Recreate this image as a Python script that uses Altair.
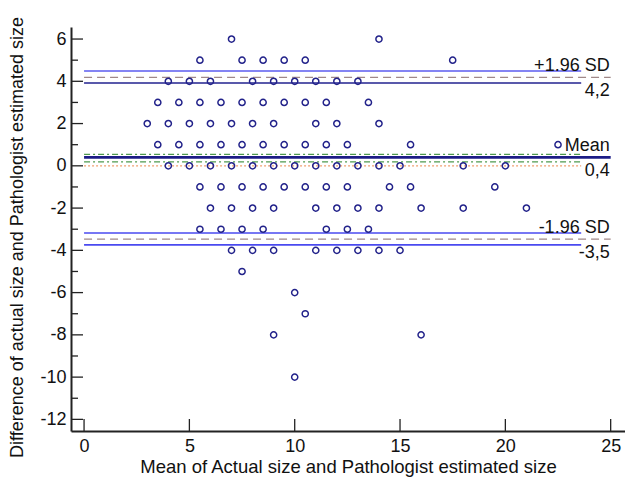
import altair as alt
import pandas as pd

# ---- data ----
d_p6 = [7, 14]
d_p5 = [5.5, 7.5, 8.5, 9.5, 10.5, 17.5]
d_p4 = [4, 5, 6, 8, 9, 10, 11, 12, 13]
d_p3 = [3.5, 4.5, 5.5, 6.5, 7.5, 8.5, 9.5, 10.5, 11.5, 13.5]
d_p2 = [3, 4, 5, 6, 7, 8, 9, 11, 12, 14]
d_p1 = [3.5, 4.5, 5.5, 6.5, 7.5, 8.5, 9.5, 10.5, 11.5, 12.5, 15.5, 22.5]
d_0 = [4, 5, 6, 7, 8, 9, 10, 11, 12, 13, 14, 15, 18, 20]
d_m1 = [5.5, 6.5, 7.5, 8.5, 9.5, 10.5, 11.5, 12.5, 14.5, 15.5, 19.5]
d_m2 = [6, 7, 8, 9, 11, 12, 13, 14, 16, 18, 21]
d_m3 = [5.5, 6.5, 7.5, 8.5, 11.5, 12.5, 13.5]
d_m4 = [7, 8, 9, 11, 12, 13, 14, 15]
d_m5 = [7.5]
d_m6 = [10]
d_m7 = [10.5]
d_m8 = [9, 16]
d_m10 = [10]

rows = {6: d_p6, 5: d_p5, 4: d_p4, 3: d_p3, 2: d_p2, 1: d_p1, 0: d_0,
        -1: d_m1, -2: d_m2, -3: d_m3, -4: d_m4, -5: d_m5, -6: d_m6,
        -7: d_m7, -8: d_m8, -10: d_m10}

line_names = ["upper_ci_hi", "upper_limit", "upper_ci_lo", "mean_ci_hi", "mean",
              "mean_ci_lo", "equality", "lower_ci_hi", "lower_limit", "lower_ci_lo"]
line_values = [4.49, 4.19, 3.92, 0.54, 0.40, 0.19, 0.0, -3.18, -3.47, -3.74]
line_x_start = [0, 0, 0, 0, 0, 0, 0, 0, 0, 0]
line_x_end = [23.6, 25, 23.6, 23.6, 25, 23.6, 23.6, 23.6, 25, 23.6]

labels_above = ["+1.96 SD", "Mean", "-1.96 SD"]
labels_above_y = [4.19, 0.40, -3.47]
labels_below = ["4,2", "0,4", "-3,5"]
labels_below_y = [4.19, 0.40, -3.47]
label_x = 25

x_ticks = [0, 5, 10, 15, 20, 25]
y_ticks_major = [-12, -10, -8, -6, -4, -2, 0, 2, 4, 6]
y_ticks_minor = [-11, -9, -7, -5, -3, -1, 1, 3, 5]

x_domain = [-0.62, 25.68]
y_domain = [-12.55, 6.57]

# ---- styles ----
FONT = "Liberation Sans"
W, H = 554, 404
line_styles = {
    "upper_ci_hi": dict(color="#5b5bef", strokeWidth=1.6),
    "upper_limit": dict(color="#a08888", strokeWidth=1.2, strokeDash=[8, 5]),
    "upper_ci_lo": dict(color="#22228f", strokeWidth=1.6),
    "mean_ci_hi": dict(color="#4f9a4f", strokeWidth=1.2, strokeDash=[6, 3, 2, 3]),
    "mean": dict(color="#1c1c86", strokeWidth=2.8),
    "mean_ci_lo": dict(color="#4f9a4f", strokeWidth=1.2, strokeDash=[6, 3, 2, 3]),
    "equality": dict(color="#f0a070", strokeWidth=1.2, strokeDash=[2, 2]),
    "lower_ci_hi": dict(color="#4a4af0", strokeWidth=1.6),
    "lower_limit": dict(color="#a08888", strokeWidth=1.2, strokeDash=[8, 5]),
    "lower_ci_lo": dict(color="#4a4af0", strokeWidth=1.6),
}

pts = pd.DataFrame([{"mean": x, "diff": d} for d, xs in rows.items() for x in xs])

xs = alt.Scale(domain=x_domain, nice=False, zero=False)
ys = alt.Scale(domain=y_domain, nice=False, zero=False)

x_axis = alt.Axis(values=x_ticks, title="Mean of Actual size and Pathologist estimated size",
                  grid=False, ticks=False, labelFlush=False, labelPadding=6, titlePadding=2,
                  titleFontSize=18.5, labelExpr="'' + datum.value")
y_axis = alt.Axis(values=y_ticks_major, title="Difference of actual size and Pathologist estimated size",
                  grid=False, ticks=False, labelFlush=False, labelPadding=5, titlePadding=13,
                  titleY=210, titleFontSize=18, labelExpr="'' + datum.value")

points = alt.Chart(pts).mark_point(shape="circle", filled=False, size=38, strokeWidth=1.5,
                                   color="#22228a", opacity=1).encode(
    x=alt.X("mean:Q", scale=xs, axis=x_axis),
    y=alt.Y("diff:Q", scale=ys, axis=y_axis),
)

layers = []
for name, v, x0, x1 in zip(line_names, line_values, line_x_start, line_x_end):
    df = pd.DataFrame({"y": [v], "x0": [x0], "x1": [x1]})
    layers.append(alt.Chart(df).mark_rule(**line_styles[name]).encode(
        x=alt.X("x0:Q", scale=xs), x2="x1:Q", y=alt.Y("y:Q", scale=ys)))

ta = pd.DataFrame({"t": labels_above, "y": labels_above_y, "x": [label_x] * 3})
tb = pd.DataFrame({"t": labels_below, "y": labels_below_y, "x": [label_x] * 3})
text_above = alt.Chart(ta).mark_text(align="right", baseline="alphabetic", dx=-1, dy=-6,
                                     font=FONT, fontSize=18, color="#111").encode(
    x=alt.X("x:Q", scale=xs), y=alt.Y("y:Q", scale=ys), text="t:N")
text_below = alt.Chart(tb).mark_text(align="right", baseline="alphabetic", dx=-1, dy=19,
                                     font=FONT, fontSize=18, color="#111").encode(
    x=alt.X("x:Q", scale=xs), y=alt.Y("y:Q", scale=ys), text="t:N")

# inward tick marks
ymaj = alt.Chart(pd.DataFrame({"y": y_ticks_major})).mark_rule(color="#222", strokeWidth=1.3).encode(
    y=alt.Y("y:Q", scale=ys), x=alt.value(0), x2=alt.value(12))
ymin = alt.Chart(pd.DataFrame({"y": y_ticks_minor})).mark_rule(color="#222", strokeWidth=1.3).encode(
    y=alt.Y("y:Q", scale=ys), x=alt.value(0), x2=alt.value(7))
xmaj = alt.Chart(pd.DataFrame({"x": x_ticks})).mark_rule(color="#222", strokeWidth=1.3).encode(
    x=alt.X("x:Q", scale=xs), y=alt.value(H), y2=alt.value(H - 12))

chart = alt.layer(*layers, points, text_above, text_below, ymaj, ymin, xmaj).properties(
    width=W, height=H,
    autosize=alt.AutoSizeParams(type="none"),
    padding={"left": 63, "top": 19, "right": 0, "bottom": 47},
    background="white",
).configure_view(stroke=None).configure_axis(
    labelFont=FONT, labelFontSize=18, labelColor="#111",
    titleFont=FONT, titleFontWeight="normal", titleColor="#111",
    domainColor="#222", domainWidth=2,
)

chart.save("out.html", embed_options={"renderer": "svg", "actions": False})
